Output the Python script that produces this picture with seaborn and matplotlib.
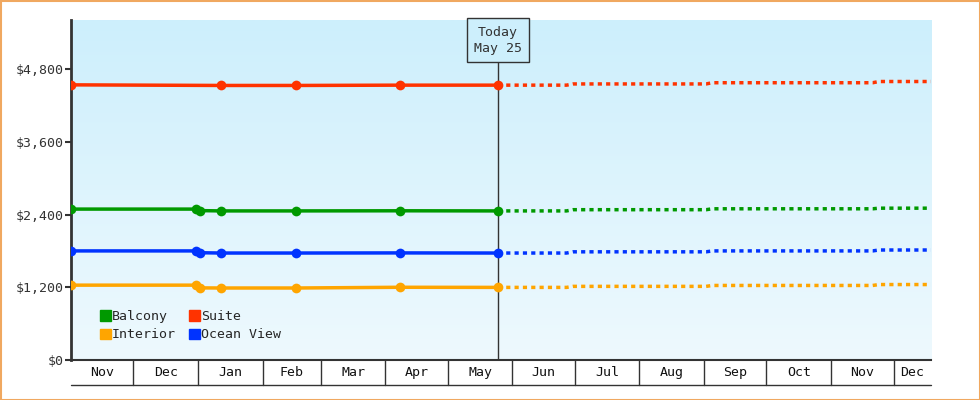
import numpy as np
import pandas as pd
import matplotlib
matplotlib.use("Agg")
import matplotlib.pyplot as plt
import matplotlib.transforms as mtransforms
import seaborn as sns

# x = days since Nov 1
hist_days = [0, 60, 62, 72, 108, 158, 205]
suite_hist = [4540, 4540, 4530, 4530, 4530, 4535, 4535]
balcony_hist = [2490, 2490, 2465, 2460, 2460, 2462, 2460]
ocean_hist = [1800, 1800, 1770, 1765, 1765, 1767, 1765]
interior_hist = [1235, 1235, 1190, 1188, 1188, 1200, 1198]
fc_days = [205, 238, 241, 305, 308, 385, 388, 413]
suite_fc = [4535, 4535, 4555, 4555, 4575, 4575, 4595, 4595]
balcony_fc = [2460, 2460, 2480, 2480, 2495, 2495, 2505, 2505]
ocean_fc = [1765, 1765, 1785, 1785, 1800, 1800, 1815, 1815]
interior_fc = [1198, 1198, 1215, 1215, 1230, 1230, 1245, 1245]
month_labels = ["Nov", "Dec", "Jan", "Feb", "Mar", "Apr", "May", "Jun", "Jul", "Aug", "Sep", "Oct", "Nov", "Dec"]
month_lengths = [30, 31, 31, 28, 31, 30, 31, 30, 31, 31, 30, 31, 30, 18]
y_ticks = [0, 1200, 2400, 3600, 4800]
today_day = 205

colors = {"Balcony": "#009900", "Suite": "#ff3300", "Interior": "#ffa500", "Ocean View": "#0033ff"}
series = {"Balcony": (balcony_hist, balcony_fc), "Suite": (suite_hist, suite_fc),
          "Interior": (interior_hist, interior_fc), "Ocean View": (ocean_hist, ocean_fc)}

sns.set_style("white")
plt.rcParams["font.family"] = ["DejaVu Sans Mono"]
fig = plt.figure(figsize=(9.8, 4.0), dpi=100)
ax = fig.add_axes([71/980, 40/400, 860/980, 340/400])
xmax = sum(month_lengths)
ymax = 5610
grad = np.linspace(0, 1, 256).reshape(-1, 1)
cmap = matplotlib.colors.LinearSegmentedColormap.from_list("g", ["#eef9fe", "#cdeffc"])
ax.imshow(grad, aspect="auto", cmap=cmap, extent=[0, xmax, 0, ymax], origin="lower", zorder=0)

for name, (h, f) in series.items():
    dh = pd.DataFrame({"d": hist_days, "v": h})
    if name == "Suite":
        dh = dh.drop(index=[1, 2])
    sns.lineplot(data=dh, x="d", y="v", ax=ax, color=colors[name], lw=2.5, marker="o",
                 markersize=7, markeredgewidth=0, zorder=3)
    df = pd.DataFrame({"d": fc_days, "v": f})
    sns.lineplot(data=df, x="d", y="v", ax=ax, color=colors[name], lw=2.5, linestyle=(0, (1.2, 1.2)), zorder=3)

ax.axvline(today_day, color="#333333", lw=1, zorder=2)
ax.text(today_day, 5275, "Today\nMay 25", ha="center", va="center", fontsize=9.5, color="#333333",
        linespacing=1.35, bbox=dict(boxstyle="square,pad=0.55", fc="#cdeffc", ec="#333333", lw=1), zorder=5)

ax.set_xlim(0, xmax)
ax.set_ylim(0, ymax)
ax.set_yticks(y_ticks)
ax.set_yticklabels([f"${v:,}" for v in y_ticks], fontsize=9.5, color="#333333")
ax.tick_params(axis="y", left=True, length=4, width=1.5, color="#333333", pad=1)
ax.set_xticks([])
ax.set_xlabel(""); ax.set_ylabel("")
for s in ["top", "right"]:
    ax.spines[s].set_visible(False)
ax.spines["left"].set_color("#333333"); ax.spines["left"].set_linewidth(2)
ax.spines["bottom"].set_color("#333333"); ax.spines["bottom"].set_linewidth(1.5)

trans = mtransforms.blended_transform_factory(ax.transData, ax.transAxes)
bottom = -25/340
edges = np.concatenate([[0], np.cumsum(month_lengths)])
for i, lab in enumerate(month_labels):
    ax.text((edges[i] + edges[i+1]) / 2, bottom/2, lab, transform=trans, ha="center", va="center",
            fontsize=9.5, color="#111111")
for e in edges[1:-1]:
    ax.plot([e, e], [0, bottom], transform=trans, color="#333333", lw=1, clip_on=False)
ax.plot([0, xmax], [bottom, bottom], transform=trans, color="#333333", lw=1, clip_on=False)

handles = [matplotlib.patches.Patch(color=colors[n], label=n) for n in ["Balcony", "Interior", "Suite", "Ocean View"]]
ax.legend(handles=handles, ncol=2, loc="lower left", bbox_to_anchor=(0.02, 0.02), frameon=False,
          fontsize=9.5, handlelength=0.8, handleheight=0.8, handletextpad=0.1, columnspacing=1.0,
          labelspacing=0.4)

fig.patches.append(matplotlib.patches.Rectangle((0.5/980, 0.5/400), 979/980, 399/400, transform=fig.transFigure,
                                                fill=False, ec="#f0a860", lw=1.5))
fig.savefig("out.png", dpi=100)
